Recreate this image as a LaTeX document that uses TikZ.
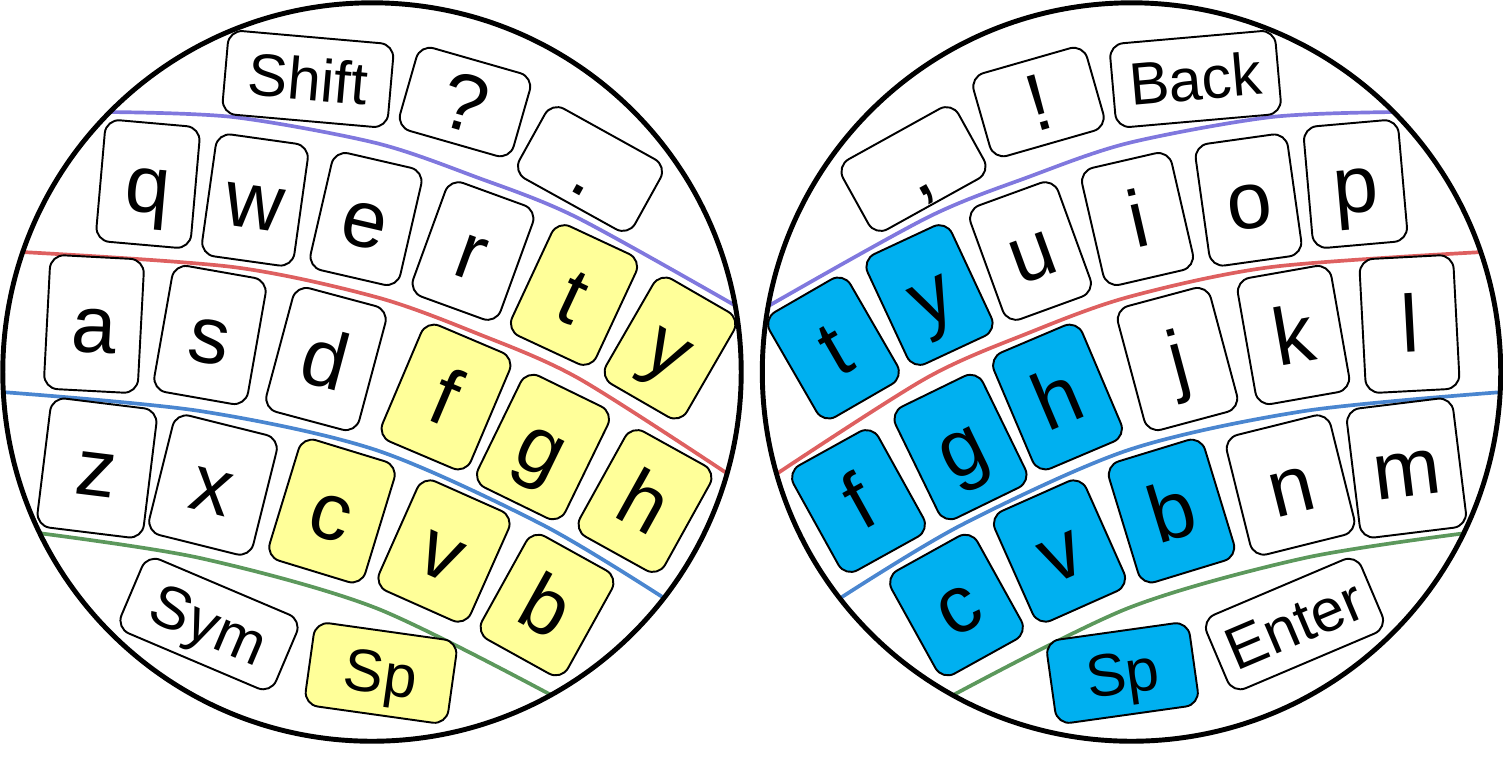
\documentclass[tikz,border=0pt]{standalone}
\usepackage{fontspec}
\setmainfont{Liberation Sans}

\definecolor{leftpick}{RGB}{255,255,153}
\definecolor{rightpick}{RGB}{0,176,240}
\definecolor{rowpurple}{RGB}{128,120,222}
\definecolor{rowred}{RGB}{222,96,96}
\definecolor{rowblue}{RGB}{74,134,208}
\definecolor{rowgreen}{RGB}{92,152,92}

\tikzset{
  key/.style={draw, line width=0.55pt, fill=white, rounded corners=4pt, inner sep=0pt,
    font=\fontsize{23}{23}\selectfont, text height=17.5pt, text depth=1.3pt},
  wordkey/.style={key, font=\fontsize{17}{17}\selectfont, text height=13pt, text depth=1.1pt},
  dims/.style 2 args={minimum width=#1*0.01cm, minimum height=#2*0.01cm},
  zone/.style={line width=1.05pt},
  rim/.style={line width=1.4pt},
}

\newcommand\zonelines{%
  \draw[zone,rowpurple] plot[smooth] coordinates {(108,112) (233,117) (376,143) (476,177) (576,217) (736,306)};
  \draw[zone,rowred] plot[smooth] coordinates {(22,252) (233,267) (376,297) (476,333) (578,378) (728,474)};
  \draw[zone,rowblue] plot[smooth] coordinates {(2,392) (200,411) (376,450) (543,525) (664,598)};
  \draw[zone,rowgreen] plot[smooth] coordinates {(38,533) (200,558) (376,608) (553,696)};
}

\begin{document}
\begin{tikzpicture}[x=0.01cm,y=-0.01cm]
\useasboundingbox (0,0) rectangle (1503,756);

\begin{scope}
  \clip (372,372) circle[radius=3.69cm];
  \zonelines
\end{scope}
\begin{scope}[xshift=15.035cm,xscale=-1]
  \clip (372,372) circle[radius=3.69cm];
  \zonelines
\end{scope}

\node[wordkey, dims={166}{84}, rotate=-5] (lshift) at (308,79) {Shift};
\node[key, dims={118}{86}, rotate=-16] (lquery) at (465,102) {?};
\node[key, dims={132}{80}, rotate=-29] (ldot) at (590,169) {.};
\node[wordkey, dims={168}{80}, rotate=-23] (lsym) at (209,624) {Sym};
\node[wordkey, fill=leftpick, dims={144}{84}, rotate=-8] (lspace) at (381,673) {Sp};

\node[wordkey, dims={166}{84}, rotate=5] (rback) at (1195.5,79) {Back};
\node[key, dims={118}{86}, rotate=16] (rbang) at (1038.5,102) {!};
\node[key, dims={132}{80}, rotate=29] (rcomma) at (913.5,169) {,};
\node[wordkey, dims={168}{80}, rotate=23] (renter) at (1294.5,624) {Enter};
\node[wordkey, fill=rightpick, dims={144}{84}, rotate=8] (rspace) at (1122.5,673) {Sp};

\foreach \x/\y/\a/\w/\h/\ll/\rl in {
  148/184/5/95/122/q/p, 255/200/8/93/123/w/o, 366/219/13/92/120/e/i, 473/251/20/93/121/r/u,
  94/324/3/94/134/a/l, 210/335/10/95/128/s/k, 326/359/15/96/128/d/j,
  97/468/7/107/130/z/m, 213/485/14/107/123/x/n}
{
  \node[key, dims={\w}{\h}, rotate=-\a] (l\ll) at (\x,\y) {\ll};
  \node[key, dims={\w}{\h}, rotate=\a] (r\rl) at (1503.5-\x,\y) {\rl};
}

\foreach \x/\y/\a/\w/\h/\ll/\rl in {
  574/295/25/93/121/t/y, 670/348/30/93/121/y/t,
  446/397/23/96/126/f/h, 543/447/26/97/124/g/g, 645/501/29/97/120/h/f,
  332/511/17/100/126/c/b, 444/551/24/100/120/v/v, 547/605/29/98/118/b/c}
{
  \node[key, fill=leftpick, dims={\w}{\h}, rotate=-\a] (l\ll) at (\x,\y) {\ll};
  \node[key, fill=rightpick, dims={\w}{\h}, rotate=\a] (r\rl) at (1503.5-\x,\y) {\rl};
}

\draw[rim] (372,372) circle[radius=3.69cm];
\draw[rim] (1131.5,372) circle[radius=3.69cm];
\end{tikzpicture}
\end{document}
